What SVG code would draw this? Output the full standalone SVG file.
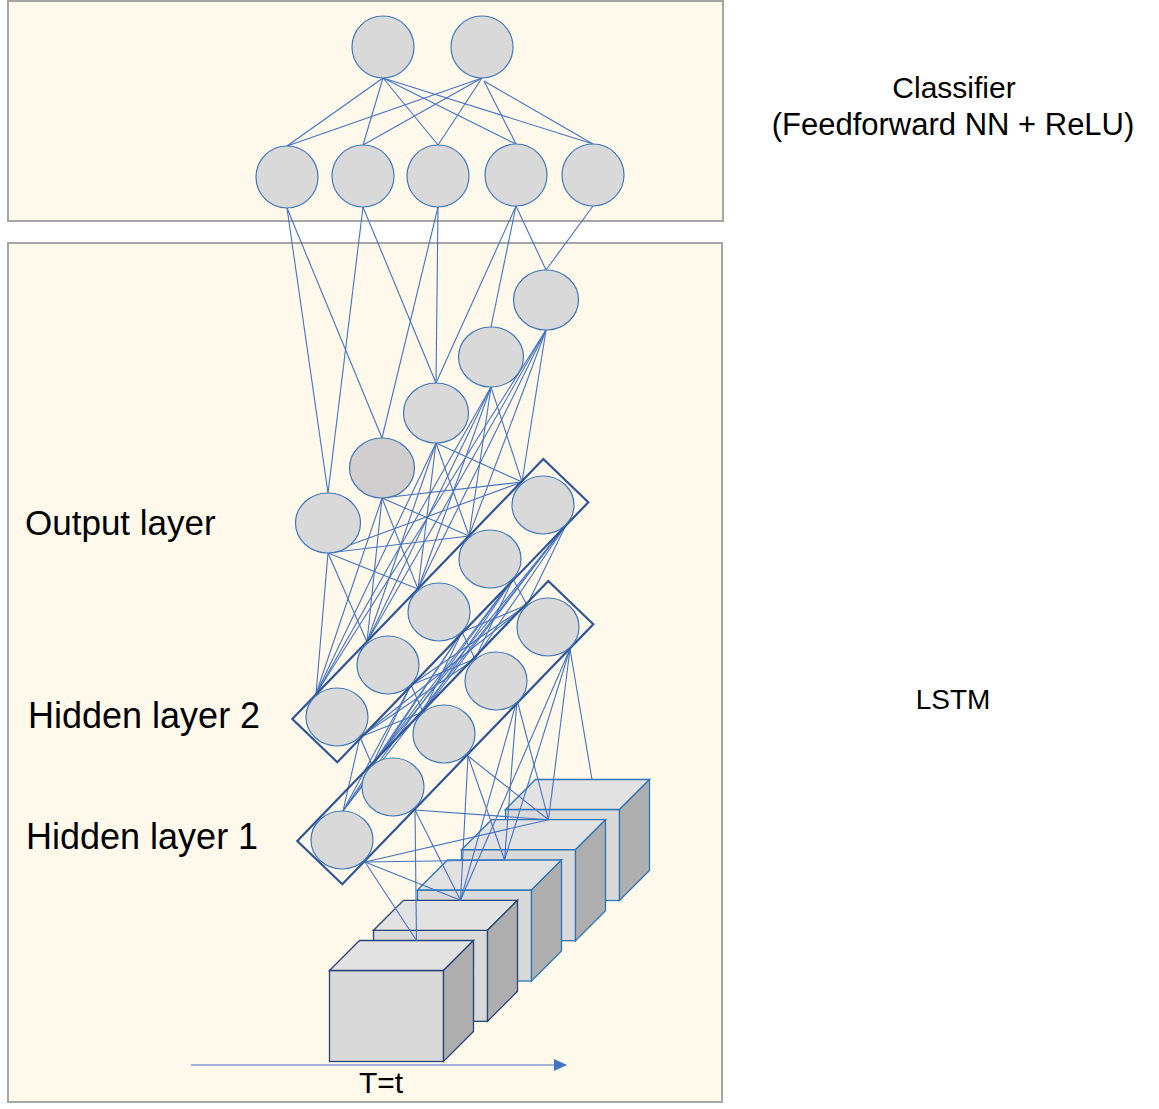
<svg xmlns="http://www.w3.org/2000/svg" width="1159" height="1109" viewBox="0 0 1159 1109">
<defs>
<style>
.panel{fill:#FFF9EC;stroke:#A6A6A6;stroke-width:2}
.n{fill:#D9D9D9;stroke:#3F78B8;stroke-width:1.2}
.nd{fill:#D0CECE;stroke:#3F78B8;stroke-width:1.2}
.c line{stroke:#4472C4;stroke-width:1.1}
.frame{fill:none;stroke:#2F5597;stroke-width:2.2;stroke-linejoin:miter}
.cf{fill:#D9D9D9}
.ct{fill:#E2E2E2}
.cr{fill:#AEAEAE}
.k1 polygon,.k1 rect{stroke:#264478;stroke-width:1.3}
.k2 polygon,.k2 rect{stroke:#2E75B6;stroke-width:1.3}
.t{font-family:"Liberation Sans",Arial,sans-serif;fill:#000}
</style>
<marker id="ah" markerWidth="14" markerHeight="12" refX="12" refY="6" orient="auto" markerUnits="userSpaceOnUse">
<polygon points="0,0 13,6 0,12" fill="#4472C4"/>
</marker>
</defs>

<rect class="panel" x="8" y="1" width="715" height="220"/>
<rect class="panel" x="8" y="243" width="714" height="859"/>

<g id="cube5" class="k2">
<rect class="cf" x="505.5" y="809.5" width="114" height="91"/>
<polygon class="ct" points="505.5,809.5 535.5,779.5 649.5,779.5 619.5,809.5"/>
<polygon class="cr" points="619.5,809.5 649.5,779.5 649.5,870.5 619.5,900.5"/>
</g>
<g id="cube4" class="k2">
<rect class="cf" x="461.5" y="849.7" width="114" height="91"/>
<polygon class="ct" points="461.5,849.7 491.5,819.7 605.5,819.7 575.5,849.7"/>
<polygon class="cr" points="575.5,849.7 605.5,819.7 605.5,910.7 575.5,940.7"/>
</g>
<g id="cube3" class="k2">
<rect class="cf" x="417.5" y="890" width="114" height="91"/>
<polygon class="ct" points="417.5,890 447.5,860 561.5,860 531.5,890"/>
<polygon class="cr" points="531.5,890 561.5,860 561.5,951 531.5,981"/>
</g>
<g id="cube2" class="k1">
<rect class="cf" x="373.5" y="930.3" width="114" height="91"/>
<polygon class="ct" points="373.5,930.3 403.5,900.3 517.5,900.3 487.5,930.3"/>
<polygon class="cr" points="487.5,930.3 517.5,900.3 517.5,991.3 487.5,1021.3"/>
</g>
<g id="cube1" class="k1">
<rect class="cf" x="329.5" y="970.5" width="114" height="91"/>
<polygon class="ct" points="329.5,970.5 359.5,940.5 473.5,940.5 443.5,970.5"/>
<polygon class="cr" points="443.5,970.5 473.5,940.5 473.5,1031.5 443.5,1061.5"/>
</g>

<g id="connectors" class="c">
<line x1="383" y1="78" x2="287" y2="146"/>
<line x1="383" y1="78" x2="363" y2="145"/>
<line x1="383" y1="78" x2="438" y2="145"/>
<line x1="383" y1="78" x2="516" y2="144"/>
<line x1="383" y1="78" x2="593" y2="144"/>
<line x1="482" y1="78" x2="287" y2="146"/>
<line x1="482" y1="78" x2="363" y2="145"/>
<line x1="482" y1="78" x2="438" y2="145"/>
<line x1="484" y1="81" x2="516" y2="144"/>
<line x1="484" y1="81" x2="593" y2="144"/>

<line x1="287" y1="208" x2="328" y2="493"/>
<line x1="287" y1="208" x2="382" y2="438"/>
<line x1="363" y1="207" x2="328" y2="493"/>
<line x1="363" y1="207" x2="436" y2="383"/>
<line x1="438" y1="207" x2="382" y2="438"/>
<line x1="438" y1="207" x2="436" y2="383"/>
<line x1="516" y1="206" x2="436" y2="383"/>
<line x1="516" y1="206" x2="491" y2="327"/>
<line x1="516" y1="206" x2="546" y2="270"/>
<line x1="593" y1="206" x2="546" y2="270"/>

<line x1="328" y1="553" x2="522" y2="482"/>
<line x1="328" y1="553" x2="469" y2="536"/>
<line x1="328" y1="553" x2="418" y2="589"/>
<line x1="328" y1="553" x2="367" y2="642"/>
<line x1="328" y1="553" x2="316" y2="694"/>
<line x1="382" y1="498" x2="522" y2="482"/>
<line x1="382" y1="498" x2="469" y2="536"/>
<line x1="382" y1="498" x2="418" y2="589"/>
<line x1="382" y1="498" x2="367" y2="642"/>
<line x1="382" y1="498" x2="316" y2="694"/>
<line x1="436" y1="443" x2="522" y2="482"/>
<line x1="436" y1="443" x2="469" y2="536"/>
<line x1="436" y1="443" x2="418" y2="589"/>
<line x1="436" y1="443" x2="367" y2="642"/>
<line x1="436" y1="443" x2="316" y2="694"/>
<line x1="491" y1="387" x2="522" y2="482"/>
<line x1="491" y1="387" x2="469" y2="536"/>
<line x1="491" y1="387" x2="418" y2="589"/>
<line x1="491" y1="387" x2="367" y2="642"/>
<line x1="491" y1="387" x2="316" y2="694"/>
<line x1="546" y1="330" x2="522" y2="482"/>
<line x1="546" y1="330" x2="469" y2="536"/>
<line x1="546" y1="330" x2="418" y2="589"/>
<line x1="546" y1="330" x2="367" y2="642"/>
<line x1="546" y1="330" x2="316" y2="694"/>

<line x1="566" y1="525" x2="527" y2="605"/>
<line x1="566" y1="525" x2="475" y2="659"/>
<line x1="566" y1="525" x2="423" y2="712"/>
<line x1="566" y1="525" x2="372" y2="765"/>
<line x1="566" y1="525" x2="343" y2="811"/>
<line x1="513" y1="579" x2="527" y2="605"/>
<line x1="513" y1="579" x2="475" y2="659"/>
<line x1="513" y1="579" x2="423" y2="712"/>
<line x1="513" y1="579" x2="372" y2="765"/>
<line x1="513" y1="579" x2="343" y2="811"/>
<line x1="462" y1="632" x2="527" y2="605"/>
<line x1="462" y1="632" x2="475" y2="659"/>
<line x1="462" y1="632" x2="423" y2="712"/>
<line x1="462" y1="632" x2="372" y2="765"/>
<line x1="462" y1="632" x2="343" y2="811"/>
<line x1="411" y1="685" x2="527" y2="605"/>
<line x1="411" y1="685" x2="475" y2="659"/>
<line x1="411" y1="685" x2="423" y2="712"/>
<line x1="411" y1="685" x2="372" y2="765"/>
<line x1="411" y1="685" x2="343" y2="811"/>
<line x1="360" y1="737" x2="527" y2="605"/>
<line x1="360" y1="737" x2="475" y2="659"/>
<line x1="360" y1="737" x2="423" y2="712"/>
<line x1="360" y1="737" x2="372" y2="765"/>
<line x1="360" y1="737" x2="343" y2="811"/>

<line x1="570" y1="649" x2="460.5" y2="900.3"/>
<line x1="570" y1="649" x2="504.5" y2="860"/>
<line x1="570" y1="649" x2="548.5" y2="819.7"/>
<line x1="570" y1="649" x2="592" y2="779.5"/>
<line x1="517" y1="700" x2="460.5" y2="900.3"/>
<line x1="517" y1="700" x2="504.5" y2="860"/>
<line x1="517" y1="700" x2="548.5" y2="819.7"/>
<line x1="468" y1="756" x2="460.5" y2="900.3"/>
<line x1="468" y1="756" x2="504.5" y2="860"/>
<line x1="468" y1="756" x2="548.5" y2="819.7"/>
<line x1="415" y1="810" x2="416.5" y2="940.5"/>
<line x1="415" y1="810" x2="460.5" y2="900.3"/>
<line x1="415" y1="810" x2="548.5" y2="819.7"/>
<line x1="365" y1="862" x2="416.5" y2="940.5"/>
<line x1="365" y1="862" x2="460.5" y2="900.3"/>
<line x1="365" y1="862" x2="504.5" y2="860"/>
<line x1="365" y1="862" x2="548.5" y2="819.7"/>

<line x1="191" y1="1065" x2="566" y2="1065" marker-end="url(#ah)" style="stroke:#4472C4;stroke-width:1.2"/>
</g>

<g id="hidden2-frame"><polygon class="frame" points="543.3,459 588.3,502.3 337.3,762.3 292.3,719"/></g>
<g id="hidden1-frame"><polygon class="frame" points="548.3,581 593.3,624.3 342.3,884.3 297.3,841"/></g>

<g id="cls-top1"><circle class="n" cx="383" cy="47" r="31"/></g>
<g id="cls-top2"><circle class="n" cx="482" cy="47" r="31"/></g>
<g id="cls1"><circle class="n" cx="287" cy="177" r="31"/></g>
<g id="cls2"><circle class="n" cx="363" cy="176" r="31"/></g>
<g id="cls3"><circle class="n" cx="438" cy="176" r="31"/></g>
<g id="cls4"><circle class="n" cx="516" cy="175" r="31"/></g>
<g id="cls5"><circle class="n" cx="593" cy="175" r="31"/></g>

<g id="out1"><ellipse class="n" cx="328" cy="523" rx="32.5" ry="30"/></g>
<g id="out2"><ellipse class="nd" cx="382" cy="468" rx="32.5" ry="30"/></g>
<g id="out3"><ellipse class="n" cx="436" cy="413" rx="32.5" ry="30"/></g>
<g id="out4"><ellipse class="n" cx="491" cy="357" rx="32.5" ry="30"/></g>
<g id="out5"><ellipse class="n" cx="546" cy="300" rx="32.5" ry="30"/></g>

<g id="h2-1"><ellipse class="n" cx="543" cy="505" rx="31" ry="29"/></g>
<g id="h2-2"><ellipse class="n" cx="490" cy="559" rx="31" ry="29"/></g>
<g id="h2-3"><ellipse class="n" cx="439" cy="612" rx="31" ry="29"/></g>
<g id="h2-4"><ellipse class="n" cx="388" cy="665" rx="31" ry="29"/></g>
<g id="h2-5"><ellipse class="n" cx="337" cy="717" rx="31" ry="29"/></g>

<g id="h1-1"><ellipse class="n" cx="548" cy="627" rx="31" ry="29"/></g>
<g id="h1-2"><ellipse class="n" cx="496" cy="681" rx="31" ry="29"/></g>
<g id="h1-3"><ellipse class="n" cx="444" cy="734" rx="31" ry="29"/></g>
<g id="h1-4"><ellipse class="n" cx="393" cy="787" rx="31" ry="29"/></g>
<g id="h1-5"><ellipse class="n" cx="342" cy="840" rx="31" ry="29"/></g>

<g id="labels">
<text class="t" x="954" y="98" font-size="30" text-anchor="middle">Classifier</text>
<text class="t" x="953" y="135" font-size="31" text-anchor="middle">(Feedforward NN + ReLU)</text>
<text class="t" x="953" y="709" font-size="28" text-anchor="middle">LSTM</text>
<text class="t" x="25" y="535" font-size="35">Output layer</text>
<text class="t" x="28" y="728" font-size="36">Hidden layer 2</text>
<text class="t" x="26" y="849" font-size="36">Hidden layer 1</text>
<text class="t" x="381" y="1093" font-size="30" text-anchor="middle">T=t</text>
</g>
</svg>
